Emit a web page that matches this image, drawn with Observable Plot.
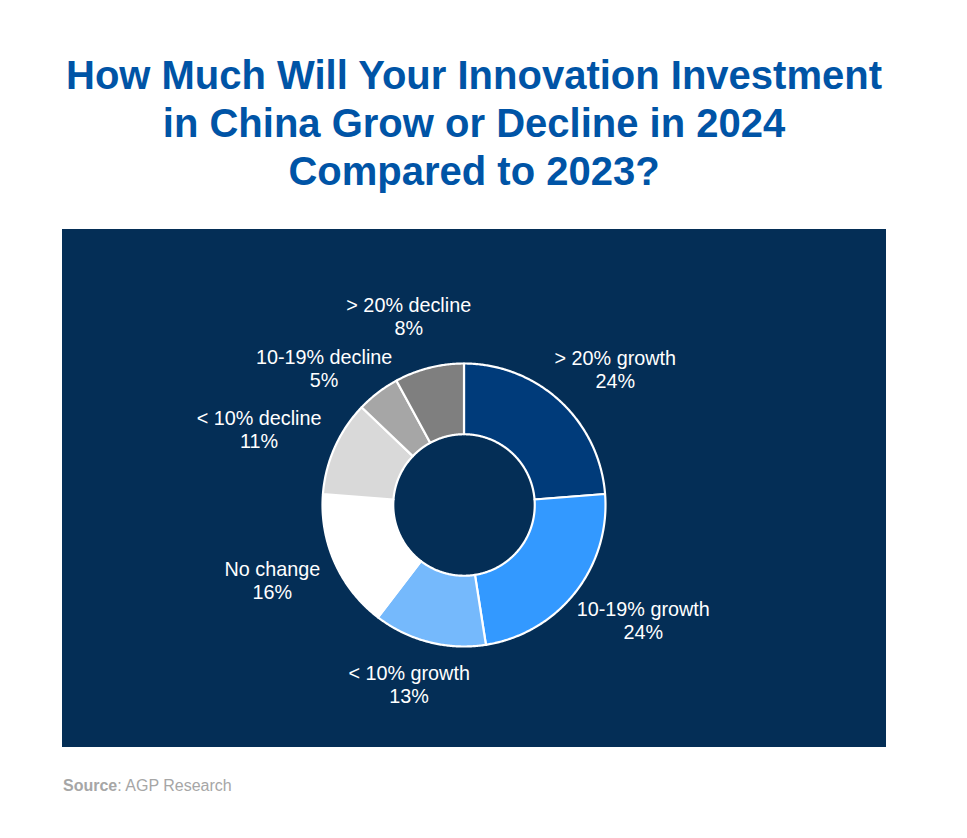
<!DOCTYPE html>
<html>
<head>
<meta charset="utf-8">
<script src="https://cdn.jsdelivr.net/npm/d3@7"></script>
<script src="https://cdn.jsdelivr.net/npm/@observablehq/plot@0.6"></script>
<style>
  html, body { margin: 0; padding: 0; background: #ffffff; }
  body { width: 967px; height: 838px; position: relative; font-family: "Liberation Sans", Arial, sans-serif; }
  #title { position: absolute; left: 62px; top: 51px; width: 824px; text-align: center;
           font-size: 40px; font-weight: bold; line-height: 48px; color: #0054a6; }
  #chart { position: absolute; left: 62px; top: 229px; width: 824px; height: 518px; background: #042e56; }
  #chart svg { display: block; }
  #source { position: absolute; left: 63px; top: 778px; font-size: 16px; line-height: 16px; color: #a6a6a6; }
</style>
</head>
<body>
<div id="title">How Much Will Your Innovation Investment<br>in China Grow or Decline in 2024<br>Compared to 2023?</div>
<div id="chart"></div>
<div id="source"><b>Source</b>: AGP Research</div>
<script>
// Data
const categories = ["> 20% growth", "10-19% growth", "< 10% growth", "No change", "< 10% decline", "10-19% decline", "> 20% decline"];
const shares = [24, 24, 13, 16, 11, 5, 8];
const colors = ["#003b7a", "#3399ff", "#75b9fc", "#ffffff", "#d9d9d9", "#a6a6a6", "#7f7f7f"];

// Layout constants
const W = 824, H = 518;
const CX = 401.5, CY = 275.5;   // donut centre inside the panel (px)
const R_PX = 141.5;             // outer radius (px) = 1 data unit
const R_IN = 0.5;               // inner radius (data units)
const LABEL_GAP = 162;          // px from centre to label box edge
const FONT_SIZE = 19.8, LINE_H = 23;
const LABEL_PAD = 6;            // min spacing between label boxes (px)

const rows = categories.map((category, i) => ({category, share: shares[i]}));
const arcs = d3.pie().sort(null).value(d => d.share).startAngle(0).endAngle(2 * Math.PI)(rows);

// Slice outlines in data coordinates (x = sin, y = cos, y up)
const ringPts = arcs.flatMap(a => {
  const n = Math.max(2, Math.ceil((a.endAngle - a.startAngle) / (Math.PI / 360)));
  const ts = d3.range(n + 1).map(i => a.startAngle + (a.endAngle - a.startAngle) * i / n);
  const ring = [...ts.map(t => [t, 1]), ...ts.slice().reverse().map(t => [t, R_IN])];
  ring.push(ring[0]);
  return ring.map(([t, r]) => ({category: a.data.category, x: r * Math.sin(t), y: r * Math.cos(t)}));
});

// Label positions: pushed outward along the mid-angle by the text box size,
// then overlapping boxes are pushed apart vertically.
const ctx = document.createElement("canvas").getContext("2d");
ctx.font = `${FONT_SIZE}px "Liberation Sans", Arial, sans-serif`;
const boxes = arcs.map(a => {
  const t = (a.startAngle + a.endAngle) / 2;
  const text = `${a.data.category}\n${a.data.share}%`;
  const w = Math.max(...text.split("\n").map(s => ctx.measureText(s).width));
  const h = LINE_H * 2;
  const sx = Math.sin(t), sy = Math.cos(t);
  return {text, w, h, px: sx * (LABEL_GAP + w / 2), py: sy * (LABEL_GAP + h / 2)};
});
for (let iter = 0; iter < 100; iter++) {
  let moved = false;
  for (let i = 0; i < boxes.length; i++) {
    for (let j = i + 1; j < boxes.length; j++) {
      const a = boxes[i], b = boxes[j];
      const ox = (a.w + b.w) / 2 + LABEL_PAD - Math.abs(a.px - b.px);
      const oy = (a.h + b.h) / 2 + LABEL_PAD - Math.abs(a.py - b.py);
      if (ox > 0 && oy > 0) {
        const s = Math.sign(a.py - b.py) || 1;
        a.py += s * Math.min(oy, 2) / 2;
        b.py -= s * Math.min(oy, 2) / 2;
        moved = true;
      }
    }
  }
  if (!moved) break;
}
const labels = boxes.map(b => ({text: b.text, x: b.px / R_PX, y: b.py / R_PX}));

const chart = Plot.plot({
  width: W,
  height: H,
  margin: 0,
  x: {domain: [-CX / R_PX, (W - CX) / R_PX], axis: null},
  y: {domain: [-(H - CY) / R_PX, CY / R_PX], axis: null},
  color: {domain: categories, range: colors},
  style: {background: "transparent", fontFamily: '"Liberation Sans", Arial, sans-serif'},
  marks: [
    Plot.line(ringPts, {x: "x", y: "y", z: "category", fill: "category", stroke: "#ffffff", strokeWidth: 2.2, strokeLinejoin: "round"}),
    Plot.text(labels, {x: "x", y: "y", text: "text", fill: "#ffffff", fontSize: FONT_SIZE, lineHeight: LINE_H / FONT_SIZE, textAnchor: "middle", lineAnchor: "middle"})
  ]
});
document.getElementById("chart").appendChild(chart);
</script>
</body>
</html>
